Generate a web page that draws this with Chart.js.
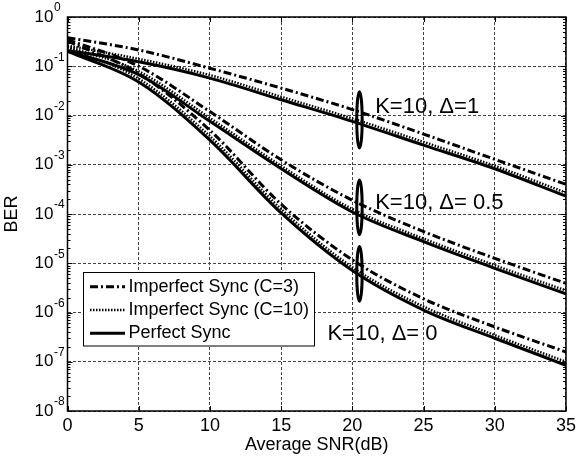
<!DOCTYPE html>
<html>
<head>
<meta charset="utf-8">
<script src="https://cdn.jsdelivr.net/npm/chart.js@4.4.0/dist/chart.umd.min.js"></script>
<style>
  html, body { margin: 0; padding: 0; background: #fff; }
</style>
</head>
<body>
<canvas id="berChart" width="580" height="458"></canvas>
<script>
// average SNR (dB)
var snr = [0, 5, 10, 15, 20, 25, 30, 35];

// K=10, delta=1
var d1C3 = [0.38, 0.214, 0.091, 0.036, 0.0132, 4.2e-3, 1.29e-3, 4.0e-4];
var d1C10 = [0.263, 0.141, 0.066, 0.024, 8.7e-3, 2.9e-3, 9.5e-4, 2.7e-4];
var d1Perfect = [0.209, 0.123, 0.0575, 0.0209, 7.6e-3, 2.5e-3, 8.3e-4, 2.3e-4];

// K=10, delta=0.5
var d05C3 = [0.347, 0.1, 0.012, 1.26e-3, 1.9e-4, 4.4e-5, 1.26e-5, 3.9e-6];
var d05C10 = [0.251, 0.079, 8.9e-3, 9.5e-4, 1.26e-4, 3.16e-5, 9.1e-6, 2.8e-6];
var d05Perfect = [0.204, 0.0676, 7.6e-3, 8.3e-4, 1.1e-4, 2.75e-5, 7.9e-6, 2.4e-6];

// K=10, delta=0
var d0C3 = [0.324, 0.0708, 5.0e-3, 1.58e-4, 1.17e-5, 1.9e-6, 5.1e-7, 1.58e-7];
var d0C10 = [0.24, 0.056, 3.8e-3, 1.26e-4, 8.3e-6, 1.32e-6, 3.47e-7, 1.0e-7];
var d0Perfect = [0.2, 0.0479, 3.16e-3, 1.05e-4, 7.1e-6, 1.12e-6, 3.0e-7, 8.5e-8];

var xTicks = [0, 5, 10, 15, 20, 25, 30, 35];
var yExponents = [0, -1, -2, -3, -4, -5, -6, -7, -8];
var legendLabels = ["Imperfect Sync (C=3)", "Imperfect Sync (C=10)", "Perfect Sync"];
var groupLabels = ["K=10, \u0394=1", "K=10, \u0394= 0.5", "K=10, \u0394= 0"];

var FONT = "'Liberation Sans', Arial, sans-serif";
var styles = {
  c3: { borderWidth: 3, borderDash: [8, 3, 2, 3] },
  c10: { borderWidth: 2.5, borderDash: [1.5, 1.5] },
  perfect: { borderWidth: 3, borderDash: [] }
};

function pts(ys) {
  return ys.map(function (v, i) { return { x: snr[i], y: v }; });
}

function series(label, ys, st) {
  return {
    label: label,
    data: pts(ys),
    borderColor: "#000",
    borderWidth: st.borderWidth,
    borderDash: st.borderDash,
    pointRadius: 0,
    fill: false,
    cubicInterpolationMode: "monotone"
  };
}

// ellipses around the three groups, and the group captions
var ellipses = [
  { x: 20.5, top: 10 ** -1.52, bottom: 10 ** -2.66 },
  { x: 20.5, top: 10 ** -3.31, bottom: 10 ** -4.42 },
  { x: 20.5, top: 10 ** -4.66, bottom: 10 ** -5.77 }
];
var captions = [
  { x: 21.6, y: 10 ** -1.95 },
  { x: 21.6, y: 10 ** -3.90 },
  { x: 18.25, y: 10 ** -6.56 }
];

var decorations = {
  id: "decorations",
  afterDatasetsDraw: function (chart) {
    var ctx = chart.ctx, a = chart.chartArea;
    var xs = chart.scales.x, ys = chart.scales.y;
    ctx.save();
    ctx.setLineDash([]);
    ctx.strokeStyle = "#000";
    ctx.fillStyle = "#000";

    // inward ticks
    ctx.lineWidth = 1;
    ctx.beginPath();
    yExponents.forEach(function (e) {
      var y = Math.round(ys.getPixelForValue(Math.pow(10, e))) + 0.5;
      ctx.moveTo(a.left, y); ctx.lineTo(a.left + 5, y);
      ctx.moveTo(a.right, y); ctx.lineTo(a.right - 5, y);
      if (e > -8) {
        for (var m = 2; m <= 9; m++) {
          var ym = Math.round(ys.getPixelForValue(m * Math.pow(10, e - 1))) + 0.5;
          ctx.moveTo(a.left, ym); ctx.lineTo(a.left + 3, ym);
          ctx.moveTo(a.right, ym); ctx.lineTo(a.right - 3, ym);
        }
      }
    });
    xTicks.forEach(function (t) {
      var x = Math.round(xs.getPixelForValue(t)) + 0.5;
      ctx.moveTo(x, a.bottom); ctx.lineTo(x, a.bottom - 5);
      ctx.moveTo(x, a.top); ctx.lineTo(x, a.top + 5);
    });
    ctx.stroke();

    // frame
    ctx.lineWidth = 1.5;
    ctx.strokeRect(a.left, a.top, a.right - a.left, a.bottom - a.top);

    // y tick labels 10^e
    yExponents.forEach(function (e) {
      var y = ys.getPixelForValue(Math.pow(10, e));
      ctx.font = "17px " + FONT;
      ctx.textAlign = "right";
      ctx.textBaseline = "middle";
      ctx.fillText("10", 53.5, y);
      ctx.font = "12px " + FONT;
      ctx.textAlign = "left";
      ctx.fillText(String(e), 54, y - 9);
    });

    // ellipses
    ctx.lineWidth = 3;
    ellipses.forEach(function (el) {
      var cx = xs.getPixelForValue(el.x);
      var rx = xs.getPixelForValue(el.x + 0.19) - cx;
      var t = ys.getPixelForValue(el.top), b = ys.getPixelForValue(el.bottom);
      ctx.beginPath();
      ctx.ellipse(cx, (t + b) / 2, rx, (b - t) / 2, 0, 0, Math.PI * 2);
      ctx.stroke();
    });

    // captions
    ctx.font = "22px " + FONT;
    ctx.textAlign = "left";
    ctx.textBaseline = "alphabetic";
    captions.forEach(function (c, i) {
      ctx.fillText(groupLabels[i], xs.getPixelForValue(c.x), ys.getPixelForValue(c.y));
    });

    // legend box
    var lx = 83.5, ly = 272.5, lw = 231, lh = 73.5;
    ctx.fillStyle = "#fff";
    ctx.fillRect(lx, ly, lw, lh);
    ctx.lineWidth = 1;
    ctx.strokeRect(lx, ly, lw, lh);
    var keys = [styles.c3, styles.c10, styles.perfect];
    ctx.font = "18px " + FONT;
    ctx.textBaseline = "middle";
    keys.forEach(function (st, i) {
      var y = 286.7 + i * 23.3;
      ctx.lineWidth = st.borderWidth;
      ctx.setLineDash(st.borderDash);
      ctx.beginPath();
      ctx.moveTo(90, y); ctx.lineTo(125, y);
      ctx.stroke();
      ctx.setLineDash([]);
      ctx.fillStyle = "#000";
      ctx.fillText(legendLabels[i], 128.5, y);
    });
    ctx.restore();
  }
};

var ctx = document.getElementById("berChart").getContext("2d");
var berChart = new Chart(ctx, {
  type: "line",
  data: {
    datasets: [
      series("Imperfect Sync (C=3), delta=1", d1C3, styles.c3),
      series("Imperfect Sync (C=10), delta=1", d1C10, styles.c10),
      series("Perfect Sync, delta=1", d1Perfect, styles.perfect),
      series("Imperfect Sync (C=3), delta=0.5", d05C3, styles.c3),
      series("Imperfect Sync (C=10), delta=0.5", d05C10, styles.c10),
      series("Perfect Sync, delta=0.5", d05Perfect, styles.perfect),
      series("Imperfect Sync (C=3), delta=0", d0C3, styles.c3),
      series("Imperfect Sync (C=10), delta=0", d0C10, styles.c10),
      series("Perfect Sync, delta=0", d0Perfect, styles.perfect)
    ]
  },
  options: {
    responsive: false,
    animation: false,
    layout: { padding: { top: 17, right: 14, left: 0, bottom: 0 } },
    plugins: {
      legend: { display: false },
      tooltip: { enabled: false }
    },
    scales: {
      x: {
        type: "linear",
        min: 0,
        max: 35,
        afterBuildTicks: function (scale) {
          scale.ticks = xTicks.map(function (v) { return { value: v }; });
        },
        afterFit: function (scale) { scale.height = 47; },
        ticks: { color: "#000", font: { family: FONT, size: 18 }, padding: 4, maxRotation: 0 },
        grid: { color: "#444", lineWidth: 1, drawTicks: false },
        border: { display: false, dash: [3, 2] },
        title: {
          display: true,
          text: "Average SNR(dB)",
          color: "#000",
          font: { family: FONT, size: 18 },
          padding: { top: 0, bottom: 2 }
        }
      },
      y: {
        type: "logarithmic",
        min: 1e-8,
        max: 1,
        afterBuildTicks: function (scale) {
          scale.ticks = yExponents.map(function (e) { return { value: Math.pow(10, e) }; });
        },
        afterFit: function (scale) { scale.width = 67.5; },
        ticks: { display: false },
        grid: { color: "#444", lineWidth: 1, drawTicks: false },
        border: { display: false, dash: [3, 2] },
        title: {
          display: true,
          text: "BER",
          color: "#000",
          font: { family: FONT, size: 18 },
          padding: { top: 1, bottom: 0 }
        }
      }
    }
  },
  plugins: [decorations]
});
</script>
</body>
</html>
